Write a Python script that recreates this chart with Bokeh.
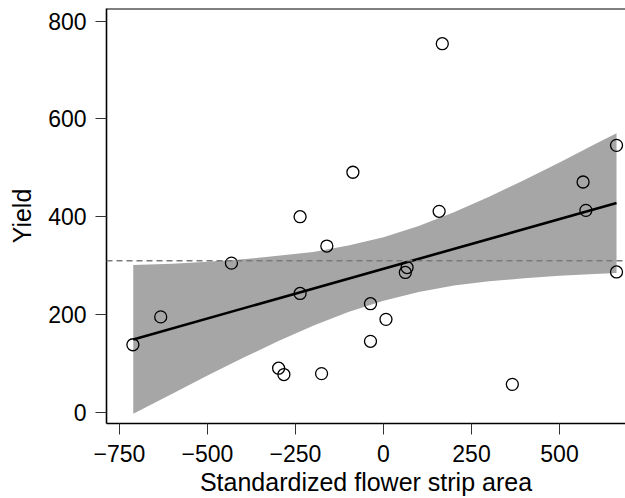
from bokeh.plotting import figure
from bokeh.models import Span, FixedTicker, Range1d
from bokeh.embed import file_html
from bokeh.resources import INLINE

# --- data ---
area = [-712, -633, -432, -298, -283, -237, -237, -176, -161, -87, -37, -37,
        7, 62, 67, 158, 167, 366, 567, 575, 662, 662]
yield_ = [138, 195, 305, 90, 77, 243, 400, 79, 340, 491, 222, 145,
          190, 286, 296, 411, 754, 57, 471, 413, 546, 287]

fit_x = [-711, 662]
fit_y = [149, 428]

band_x = [-711, -600, -500, -400, -300, -200, -100, 0, 100, 200, 300, 400, 500, 600, 662]
band_upper = [301, 304, 308, 313, 320, 328, 341, 358, 381, 409, 441, 475, 511, 548, 571]
band_lower = [-3, 38, 75, 111, 145, 177, 205, 228, 246, 259, 268, 274, 279, 283, 285]

reference_yield = 310

x_ticks = [-750, -500, -250, 0, 250, 500]
x_tick_labels = ["\u2212750", "\u2212500", "\u2212250", "0", "250", "500"]
y_ticks = [0, 200, 400, 600, 800]
y_tick_labels = ["0", "200", "400", "600", "800"]

X_START, X_END = -787, 687.5
Y_START, Y_END = -23.1, 826

FONT = "Liberation Sans"

p = figure(width=625, height=498, output_backend="svg", toolbar_location=None,
           x_range=Range1d(X_START, X_END), y_range=Range1d(Y_START, Y_END),
           min_border_left=106, min_border_right=0, min_border_top=8,
           min_border_bottom=75)
p.background_fill_color = "white"
p.border_fill_color = "white"
p.grid.visible = False
p.outline_line_color = None

# confidence band
p.varea(x=band_x, y1=band_lower, y2=band_upper, fill_color="#a6a6a6", fill_alpha=1.0)

# reference dashed line
p.add_layout(Span(location=reference_yield, dimension="width", line_color="#7a7a7a",
                  line_dash="6 4", line_width=1.5))

# regression line
p.line(fit_x, fit_y, line_color="black", line_width=2.6)

# points
p.scatter(area, yield_, marker="circle", size=12, fill_color=None,
          line_color="black", line_width=1.3)

# top border of the box (right side is cropped in the reference)
p.add_layout(Span(location=Y_END, dimension="width", line_color="black", line_width=1.8))

for ax in (p.xaxis[0], p.yaxis[0]):
    ax.axis_line_color = "black"
    ax.axis_line_width = 1.6
    ax.major_tick_line_color = "#333333"
    ax.major_tick_line_width = 1
    ax.major_tick_out = 11
    ax.major_tick_in = 0
    ax.minor_tick_line_color = None
    ax.major_label_text_font = FONT
    ax.major_label_text_font_size = "23px"
    ax.major_label_text_color = "black"
    ax.axis_label_text_font = FONT
    ax.axis_label_text_font_size = "25px"
    ax.axis_label_text_font_style = "normal"
    ax.axis_label_text_color = "black"

p.xaxis.ticker = FixedTicker(ticks=x_ticks)
p.xaxis.major_label_overrides = {t: l for t, l in zip(x_ticks, x_tick_labels)}
p.yaxis.ticker = FixedTicker(ticks=y_ticks)
p.yaxis.major_label_overrides = {t: l for t, l in zip(y_ticks, y_tick_labels)}
p.yaxis.major_label_orientation = "horizontal"

p.xaxis.axis_label = "Standardized flower strip area"
p.yaxis.axis_label = "Yield"
p.xaxis.major_label_standoff = 10
p.yaxis.major_label_standoff = 9
p.xaxis.axis_label_standoff = 3
p.yaxis.axis_label_standoff = 9

open("out.html", "w").write(file_html(p, INLINE))
